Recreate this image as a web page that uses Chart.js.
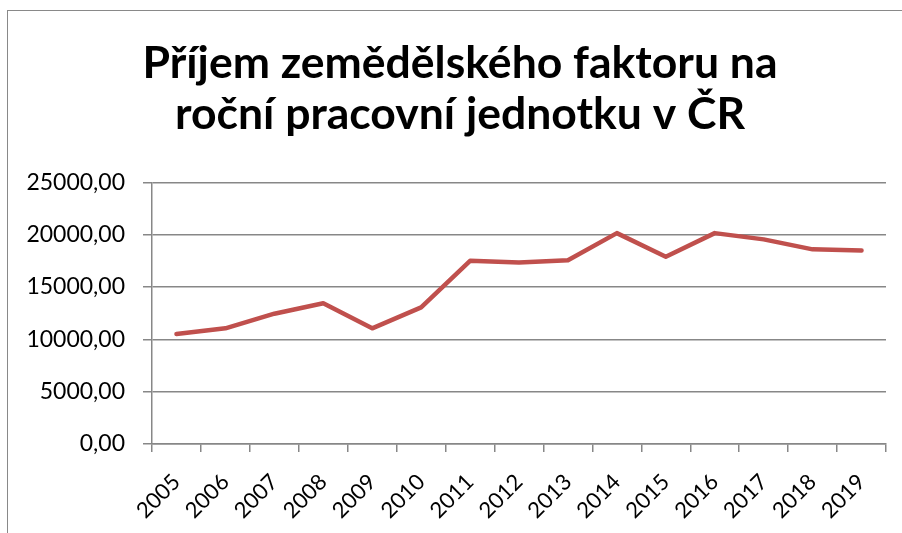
<!DOCTYPE html>
<html>
<head>
<meta charset="utf-8">
<script src="https://cdn.jsdelivr.net/npm/chart.js@4/dist/chart.umd.min.js"></script>
<style>
  html, body { margin: 0; padding: 0; background: #fff; }
  #wrap { position: relative; width: 902px; height: 533px; overflow: hidden; }
  #frame {
    position: absolute; left: 7px; top: 10px; width: 960px; height: 600px;
    border-left: 1.5px solid #898989; border-top: 1.5px solid #898989;
  }
  #chart { position: absolute; left: 0; top: 0; }
</style>
</head>
<body>
<div id="wrap">
  <div id="frame"></div>
  <canvas id="chart" width="902" height="533"></canvas>
</div>
<script>
// Data
const years = ['2005', '2006', '2007', '2008', '2009', '2010', '2011', '2012',
  '2013', '2014', '2015', '2016', '2017', '2018', '2019'];
const incomePerAwu = [10500, 11050, 12450, 13450, 11050, 13050, 17500, 17350,
  17550, 20150, 17900, 20150, 19550, 18600, 18500];
const titleLines = ['Příjem zemědělského faktoru na', 'roční pracovní jednotku v ČR'];

const gridColor = '#878787';
const lineColor = '#C0504D';

// the title in the reference is centred a bit right of the canvas middle
const titleShift = {
  id: 'titleShift',
  afterLayout(chart) {
    const t = chart.titleBlock;
    if (t) {
      t.left = 34;
      t.right = chart.width - 16;
    }
  }
};

const ctx = document.getElementById('chart').getContext('2d');
new Chart(ctx, {
  type: 'line',
  data: {
    labels: years,
    datasets: [{
      data: incomePerAwu,
      borderColor: lineColor,
      borderWidth: 4.5,
      pointRadius: 0,
      tension: 0,
      borderCapStyle: 'round',
      borderJoinStyle: 'round'
    }]
  },
  plugins: [titleShift],
  options: {
    responsive: false,
    animation: false,
    layout: { padding: { left: 0, right: 16, top: 0, bottom: 0 } },
    plugins: {
      legend: { display: false },
      tooltip: { enabled: false },
      title: {
        display: true,
        text: titleLines,
        color: '#000',
        font: { family: 'Lato', size: 44.5, weight: 'bold', lineHeight: 1.15 },
        padding: { top: 38, bottom: 42 }
      }
    },
    scales: {
      x: {
        offset: true,
        grid: {
          offset: true,
          drawOnChartArea: false,
          drawTicks: true,
          tickLength: 8,
          color: gridColor,
          lineWidth: 1.5
        },
        border: { color: gridColor, width: 1.5 },
        ticks: {
          color: '#000',
          font: { family: 'Lato', size: 22 },
          maxRotation: 45,
          minRotation: 45,
          padding: 17,
          autoSkip: false
        },
        afterFit: function(scale) { scale.height = 89; }
      },
      y: {
        min: 0,
        max: 25000,
        grid: {
          color: gridColor,
          lineWidth: 1.5,
          tickLength: 9
        },
        border: { color: gridColor, width: 1.5 },
        ticks: {
          stepSize: 5000,
          color: '#000',
          padding: 18,
          font: { family: 'Lato', size: 23 },
          callback: function(v) { return v.toFixed(2).replace('.', ','); }
        },
        afterFit: function(scale) { scale.width = 152; }
      }
    }
  }
});
</script>
</body>
</html>
